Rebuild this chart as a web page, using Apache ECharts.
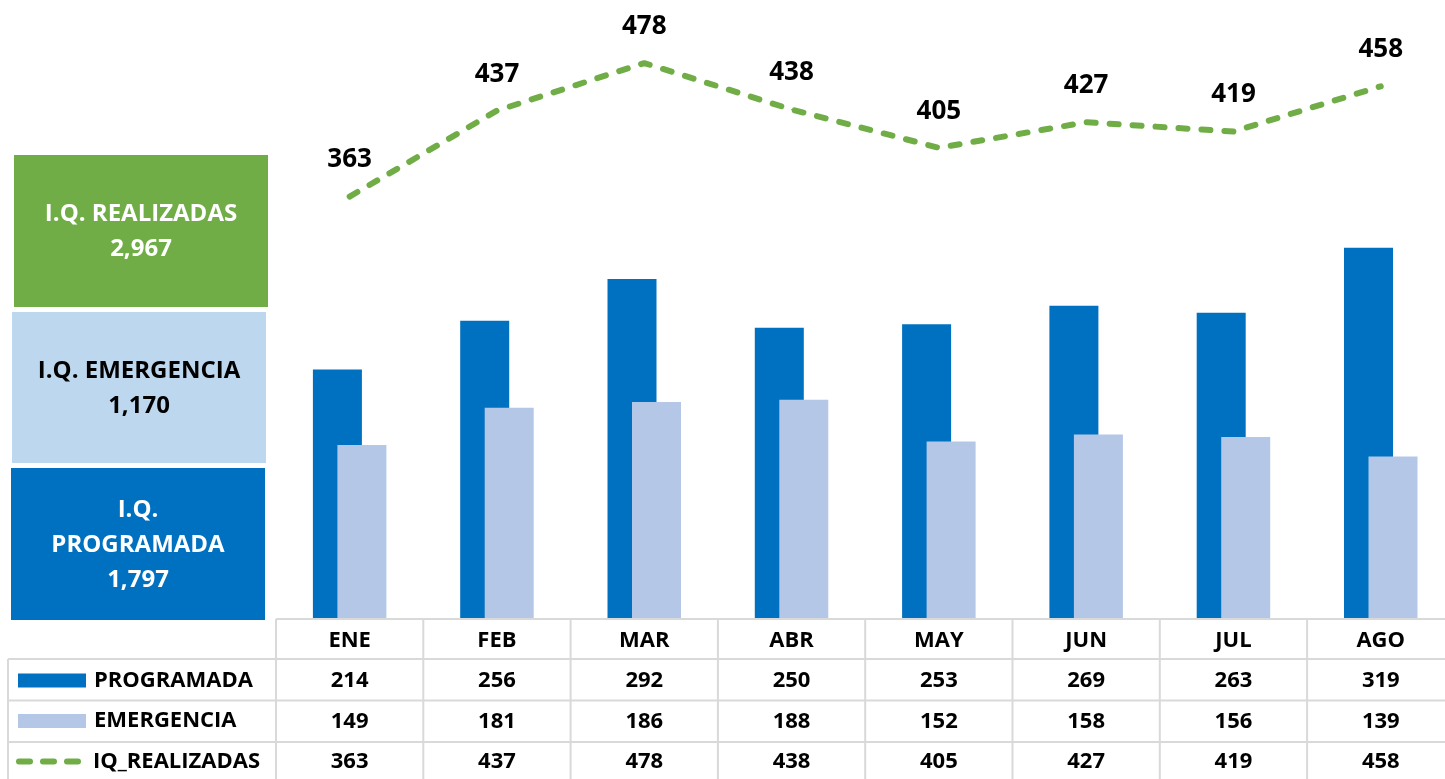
<!DOCTYPE html>
<html><head><meta charset="utf-8">
<script src="https://cdn.jsdelivr.net/npm/echarts@6/dist/echarts.min.js"></script>
<style>html,body{margin:0;padding:0;background:#fff}#c{width:1445px;height:779px}</style>
</head><body><div id="c"></div>
<script>
const categories = ['ENE','FEB','MAR','ABR','MAY','JUN','JUL','AGO'];
const programada = [214,256,292,250,253,269,263,319];
const emergencia = [149,181,186,188,152,158,156,139];
const realizadas = [363,437,478,438,405,427,419,458];
const seriesNames = ['PROGRAMADA','EMERGENCIA','IQ_REALIZADAS'];
const boxTitles = ['I.Q. REALIZADAS','I.Q. EMERGENCIA','I.Q.\nPROGRAMADA'];
const boxTotals = ['2,967','1,170','1,797'];

const FONT = '"Open Sans", sans-serif';
const C_PROG = '#0070C0', C_EMER = '#B4C7E7', C_REAL = '#70AD47';
const GRID_L = 276, COL_W = 147.3, GRID_TOP = 37.5, GRID_H = 580.5;
const TABLE_TOP = 619, ROW_LINES = [659, 700.5, 742], ROW_CENTERS = [680.5, 721, 761.5];
const LINE_C = '#D9D9D9';

const chart = echarts.init(document.getElementById('c'), null, {renderer: 'canvas'});

const graphics = [];
// left summary boxes
const boxes = [
  {x: 14, y: 155, w: 254, h: 152, fill: C_REAL, color: '#fff'},
  {x: 12, y: 312, w: 254, h: 151, fill: '#BDD7EE', color: '#000'},
  {x: 11, y: 468, w: 254, h: 152, fill: C_PROG, color: '#fff'}
];
boxes.forEach((b, i) => {
  graphics.push({type: 'rect', shape: {x: b.x, y: b.y, width: b.w, height: b.h}, style: {fill: b.fill}, z: 1});
  graphics.push({type: 'text', x: b.x + b.w / 2, y: b.y + b.h / 2 + 1, z: 2,
    style: {text: boxTitles[i] + '\n' + boxTotals[i], fill: b.color, font: 'bold 24px ' + FONT,
      align: 'center', verticalAlign: 'middle', lineHeight: 35}});
});
// table lines
const RIGHT = 1445, BOTTOM = 779;
const hl = (x1, y1, x2, y2) => graphics.push({type: 'line', z: 1, shape: {x1, y1, x2, y2}, style: {stroke: LINE_C, lineWidth: 2}});
hl(GRID_L, TABLE_TOP, RIGHT, TABLE_TOP);
ROW_LINES.forEach(y => hl(8, y, RIGHT, y));
for (let i = 0; i <= categories.length; i++) {
  const x = GRID_L + i * COL_W;
  hl(x, TABLE_TOP, x, BOTTOM);
}
hl(8, ROW_LINES[0], 8, BOTTOM);

const legendBase = {
  left: 18, orient: 'vertical', padding: 0, itemGap: 0, itemWidth: 68, itemHeight: 14,
  selectedMode: false,
  textStyle: {fontSize: 22, fontWeight: 'bold', color: '#000', fontFamily: FONT, padding: [0, 0, 0, 3]}
};

const option = {
  animation: false,
  backgroundColor: '#fff',
  textStyle: {fontFamily: FONT},
  grid: {left: GRID_L, top: GRID_TOP, width: COL_W * categories.length, height: GRID_H,
    outerBoundsMode: 'none', containLabel: false},
  legend: [
    Object.assign({}, legendBase, {data: [{name: seriesNames[0], icon: 'rect'}], top: ROW_CENTERS[0] - 11}),
    Object.assign({}, legendBase, {data: [{name: seriesNames[1], icon: 'rect'}], top: ROW_CENTERS[1] - 11}),
    Object.assign({}, legendBase, {data: [seriesNames[2]], top: ROW_CENTERS[2] - 11, left: 16, itemWidth: 66,
      itemStyle: {opacity: 0},
      lineStyle: {width: 6, type: [11, 13], cap: 'round', color: C_REAL}})
  ],
  xAxis: {
    type: 'category', data: categories,
    axisLine: {show: false}, axisTick: {show: false}, splitLine: {show: false},
    axisLabel: {
      interval: 0, margin: 2,
      formatter: (v, i) => '{h|' + v + '}\n{v|' + programada[i] + '}\n{v|' + emergencia[i] + '}\n{v|' + realizadas[i] + '}',
      rich: {
        h: {fontSize: 22, fontWeight: 'bold', color: '#000', fontFamily: FONT, lineHeight: 40.5, align: 'center'},
        v: {fontSize: 22, fontWeight: 'bold', color: '#000', fontFamily: FONT, lineHeight: 40.5, align: 'center'}
      }
    }
  },
  yAxis: {type: 'value', min: 0, max: 500, show: false, splitLine: {show: false}},
  series: [
    {name: seriesNames[0], type: 'bar', data: programada, barWidth: 49, barGap: '-50%',
      itemStyle: {color: C_PROG}},
    {name: seriesNames[1], type: 'bar', data: emergencia, barWidth: 49, barGap: '-50%',
      itemStyle: {color: C_EMER}},
    {name: seriesNames[2], type: 'line', data: realizadas, symbol: 'circle', symbolSize: 1,
      itemStyle: {color: C_REAL},
      lineStyle: {color: C_REAL, width: 6, type: [9, 14], cap: 'round'},
      label: {show: true, position: 'top', distance: 23, fontSize: 26, fontWeight: 'bold', color: '#000', fontFamily: FONT},
      z: 5}
  ],
  graphic: graphics
};
chart.setOption(option);
</script>
</body></html>
